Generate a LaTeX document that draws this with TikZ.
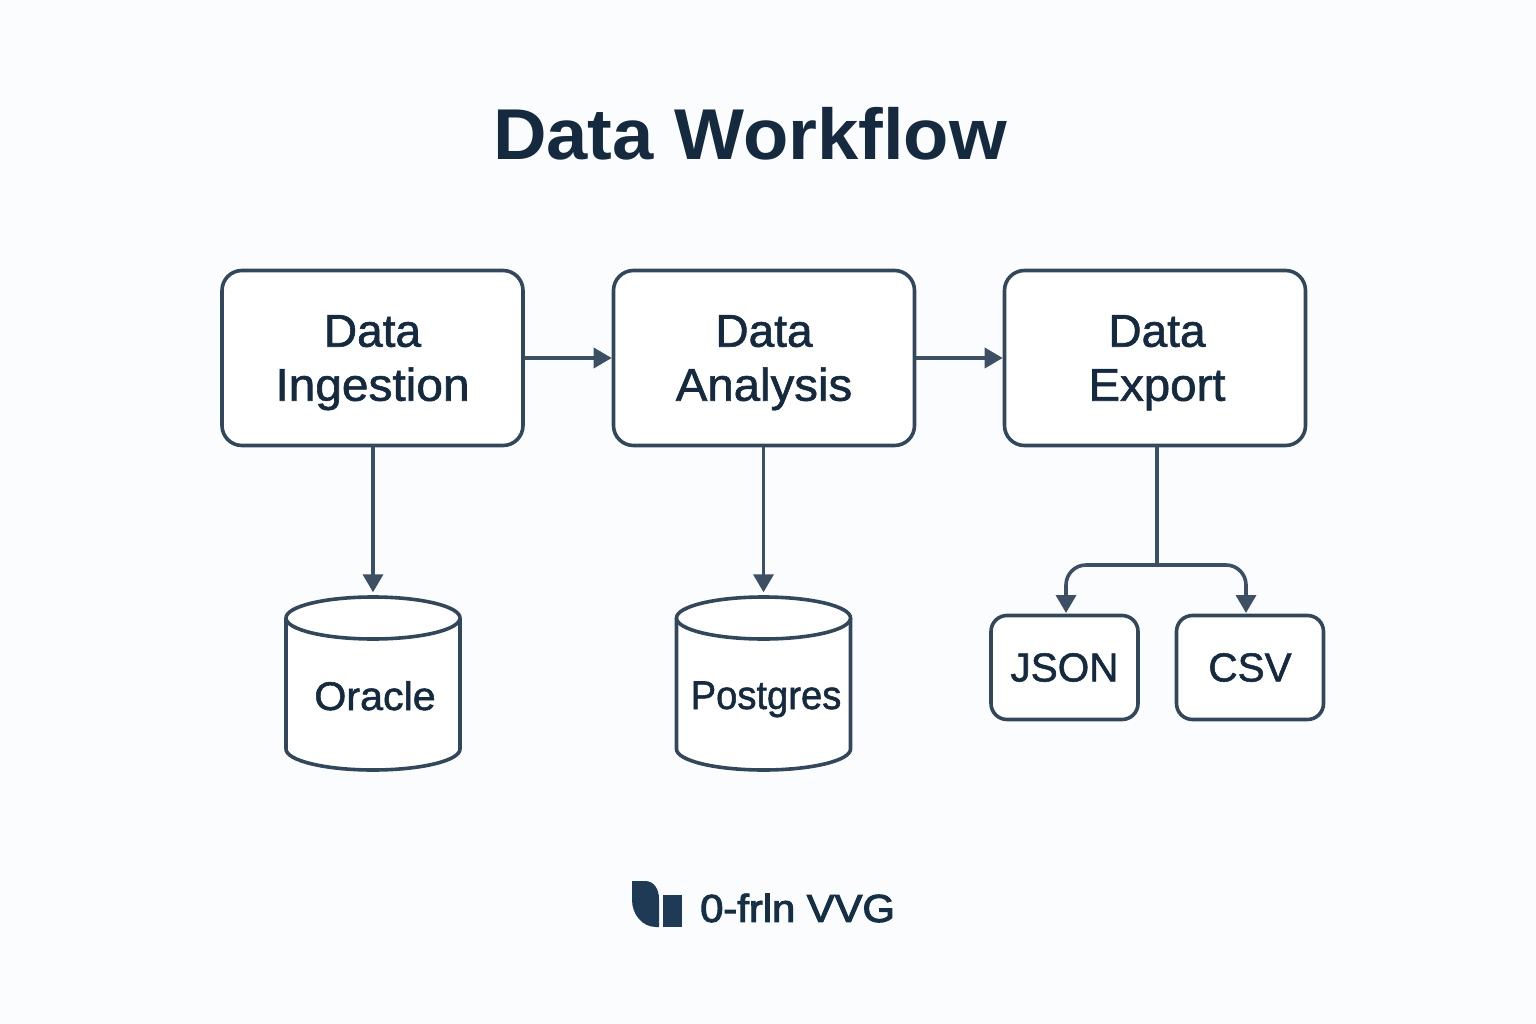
\documentclass[tikz,border=0pt]{standalone}
\usepackage{fontspec}
\setmainfont{Liberation Sans}
\newfontfamily\medfont[FakeBold=1.3]{Liberation Sans}
\newfontfamily\logofont[FakeBold=2.6]{Liberation Sans}
\usetikzlibrary{arrows.meta}
\definecolor{bgc}{HTML}{FBFCFE}
\definecolor{linec}{HTML}{33475B}
\definecolor{arrowc}{HTML}{3D4F63}
\definecolor{textc}{HTML}{152A3E}
\definecolor{logoc}{HTML}{1F3A54}
\definecolor{logotextc}{HTML}{152F45}
\tikzset{
  x=1pt,y=-1pt,
  stagebox/.style={draw=linec,line width=3.6pt,fill=white,rounded corners=20pt,minimum width=301pt,minimum height=175pt,inner sep=0pt,text=textc,align=center,font=\medfont\fontsize{46}{54}\selectfont},
  leafbox/.style={draw=linec,line width=3.6pt,fill=white,rounded corners=16pt,minimum width=147pt,minimum height=104pt,inner sep=0pt,text=textc,font=\medfont\fontsize{40.5}{48}\selectfont},
  cylbody/.style={draw=linec,line width=3.6pt,fill=white},
  cyllabel/.style={text=textc,inner sep=0pt,anchor=base,font=\medfont\fontsize{40}{48}\selectfont},
  cylbounds/.style={minimum width=175pt,minimum height=174pt,inner sep=0pt},
  flow/.style={draw=arrowc,line width=3.6pt,-{Triangle[width=20pt,length=18pt]}},
  trunk/.style={draw=arrowc,line width=3.6pt},
}
\newcommand{\cylshape}[2]{%
  \path[cylbody] (#1-87,618) -- (#1-87,749) arc[x radius=87,y radius=21,start angle=180,end angle=0] -- (#1+87,618);
  \path[cylbody] (#1,618) ellipse[x radius=87,y radius=21];
  \node[cylbounds] (#2) at (#1,683.5) {};
}
\begin{document}
\begin{tikzpicture}
\useasboundingbox (0,0) rectangle (1536,1024);
\fill[bgc] (0,0) rectangle (1536,1024);
\node[text=textc,inner sep=0pt,font=\bfseries\fontsize{72}{80}\selectfont] (title) at (750,134) {\scalebox{1.03}[1]{Data Workflow}};

\node[stagebox] (ingest) at (372.5,358) {\rule{0pt}{41pt}Data\\\scalebox{1.04}[1]{Ingestion}};
\node[stagebox] (analysis) at (764,358) {\rule{0pt}{41pt}Data\\\scalebox{1.03}[1]{Analysis}};
\node[stagebox] (export) at (1155,358) {\rule{0pt}{41pt}\hspace*{4pt}Data\\\hspace*{4pt}\scalebox{1.03}[1]{Export}};

\cylshape{373}{oracle}
\cylshape{763.5}{postgres}
\node[cyllabel] (oracletext) at (375,710) {\scalebox{1.03}[1]{Oracle}};
\node[cyllabel] (postgrestext) at (766,709) {\scalebox{.955}[1]{Postgres}};

\node[leafbox] (json) at (1064.5,667.5) {JSON};
\node[leafbox] (csv) at (1250,667.5) {CSV};

\draw[flow] (ingest) -- (analysis);
\draw[flow] (analysis) -- (export);
\draw[flow,shorten >=4pt] (oracle.north |- ingest.south) -- (oracle.north);
\draw[flow,shorten >=4pt] (postgres.north |- analysis.south) -- (postgres.north);

\coordinate (exportout) at (1157,446);
\coordinate (split) at (1157,565);
\coordinate (jsonin) at (1066,613);
\coordinate (csvin) at (1246,613);
\draw[trunk] (exportout) -- (split);
\draw[flow,rounded corners=20pt] (split) -| (jsonin);
\draw[flow,rounded corners=20pt] (split) -| (csvin);

\fill[logoc] (632,881) -- (645,881) .. controls (654,881) and (659,889) .. (659,899) -- (659,927) -- (656,927) .. controls (642,927) and (632,914) .. (632,900) -- cycle;
\fill[logoc] (663,895) rectangle (682,927);
\node[anchor=west,text=logotextc,inner sep=0pt,font=\logofont\fontsize{39}{44}\selectfont] (logotext) at (700,908) {\scalebox{1.07}[1]{0-frln VVG}};
\end{tikzpicture}
\end{document}
